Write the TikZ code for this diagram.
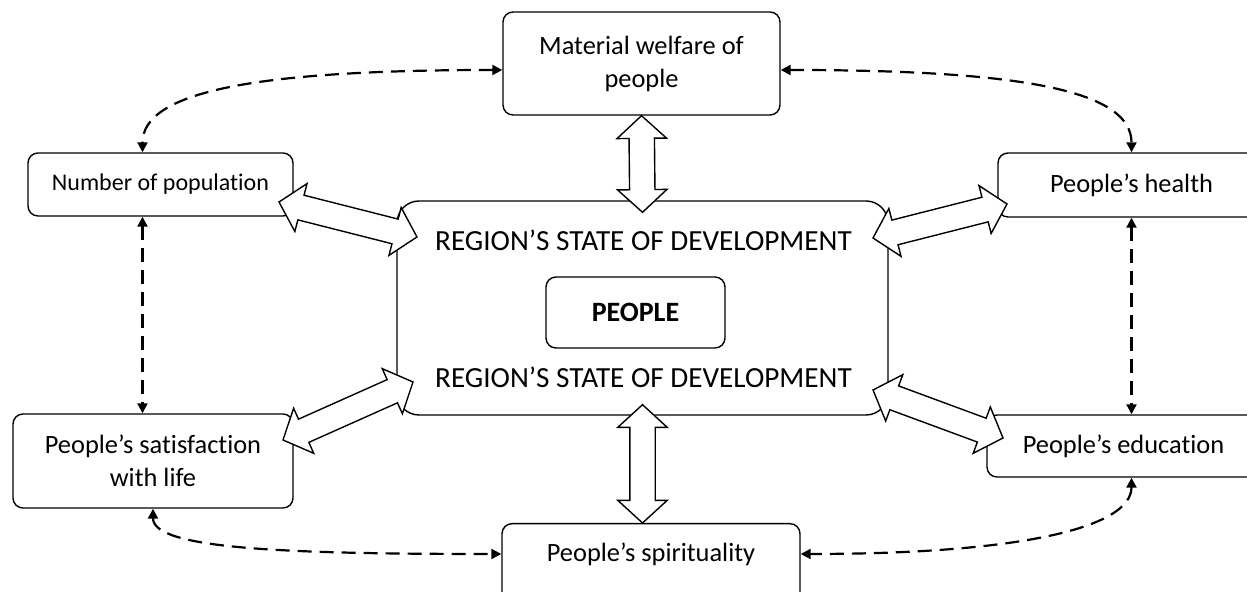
\documentclass[tikz,border=0pt]{standalone}
\usepackage{fontspec}
\setmainfont{Carlito}[Ligatures=NoCommon]
\usetikzlibrary{arrows.meta,calc,shapes.arrows}

\newcommand\blockarrow[2]{%
  \path let \p1=($(#2)-(#1)$) in (#1) -- node[bigarrow,sloped,minimum height={veclen(\x1,\y1)}] {} (#2);}

\begin{document}
\begin{tikzpicture}[x=0.5pt,y=0.5pt]
\tikzset{
  factorbox/.style={draw,rounded corners=5pt,line width=0.7pt,align=center,inner sep=0pt,
    font=\fontsize{13.2}{16.5}\selectfont},
  regionbox/.style={draw,rounded corners=11pt,line width=0.7pt,inner sep=0pt},
  regiontext/.style={font=\fontsize{14.6}{17}\selectfont},
  linkarrow/.style={{Triangle[length=5pt,width=5pt]}-{Triangle[length=5pt,width=5pt]},
    line width=1.1pt,dash pattern=on 7pt off 4pt},
  bigarrow/.style={double arrow,draw,fill=white,line width=0.7pt,inner xsep=0pt,inner ysep=6pt,
    double arrow head extend=6pt,double arrow tip angle=95}
}
\useasboundingbox (0,0) rectangle (1247,592);
\clip (0,0) rectangle (1247,592);

% boxes
\node[regionbox,minimum width=245.5pt,minimum height=107pt] (region) at (642.5,284) {};
\node[regiontext] (regtop) at (643.5,352) {REGION’S STATE OF DEVELOPMENT};
\node[regiontext] (regbot) at (643.5,215) {REGION’S STATE OF DEVELOPMENT};
\node[factorbox,minimum width=89.5pt,minimum height=35.5pt,font=\fontsize{14}{17}\bfseries] (people) at (635.5,279.5) {PEOPLE};
\node[factorbox,minimum width=138.5pt,minimum height=51.5pt] (mat) at (641.5,528.5) {Material welfare of\\people};
\node[factorbox,minimum width=132.5pt,minimum height=31.5pt,font=\fontsize{12}{14}\selectfont] (pop) at (160.5,407.5) {Number of population};
\node[factorbox,minimum width=133.5pt,minimum height=32pt] (health) at (1131.5,407) {People’s health};
\node[factorbox,minimum width=140pt,minimum height=47pt] (sat) at (153,131) {People’s satisfaction\\with life};
\node[factorbox,minimum width=136.5pt,minimum height=31pt] (edu) at (1123.5,146) {People’s education};
\node[factorbox,minimum width=149pt,anchor=north,text height=19pt,text depth=30pt] (spir) at (651,69) {People’s spirituality};

% dashed links
\coordinate (popfoot) at ($(pop.south)+(-18,0)$);
\coordinate (spirleft) at ($(spir.north west)+(0,-31)$);
\coordinate (spirright) at ($(spir.north east)+(0,-31)$);
\draw[linkarrow] ($(mat.west)+(0,-6.5)$) .. controls +(-250,0) and +(0,60) .. ($(pop.north)+(-18,0)$);
\draw[linkarrow] ($(mat.east)+(0,-6.5)$) .. controls +(250,0) and +(0,60) .. (health.north);
\draw[linkarrow] (popfoot) -- (popfoot |- sat.north);
\draw[linkarrow] (health.south) -- (health.south |- edu.north);
\draw[linkarrow] (sat.south) .. controls +(0,-40) and +(-220,0) .. (spirleft);
\draw[linkarrow] (health.south |- edu.south) .. controls +(0,-50) and +(220,0) .. (spirright);

% block arrows
\coordinate (nwa) at (279,390);  \coordinate (nwb) at (417,355);
\coordinate (nea) at (873,354);  \coordinate (neb) at (1007,388);
\coordinate (swa) at (283,152);  \coordinate (swb) at (413,210);
\coordinate (sea) at (873,202);  \coordinate (seb) at (1003,154);
\blockarrow{mat.south}{$(region.north)+(0,-12)$}
\blockarrow{$(region.south)+(0,11)$}{region.south |- spir.north}
\blockarrow{nwa}{nwb}
\blockarrow{nea}{neb}
\blockarrow{swa}{swb}
\blockarrow{sea}{seb}
\end{tikzpicture}
\end{document}
